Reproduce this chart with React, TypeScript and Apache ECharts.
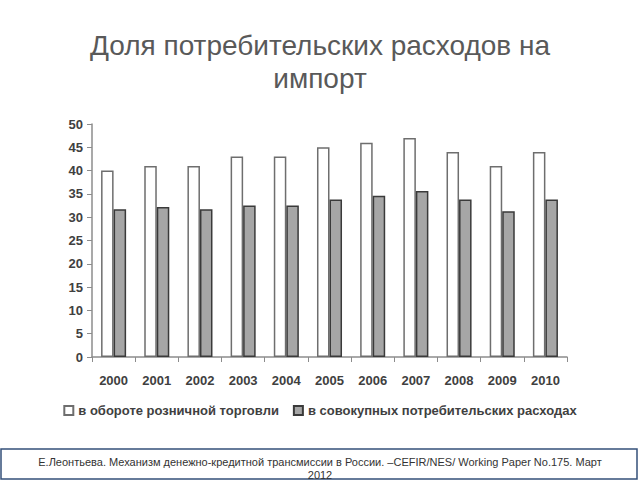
import React, { useEffect, useRef } from "react";
import * as echarts from "echarts";

const years = ["2000", "2001", "2002", "2003", "2004", "2005", "2006", "2007", "2008", "2009", "2010"];
const retailShare = [40, 41, 41, 43, 43, 45, 46, 47, 44, 41, 44];
const consumerShare = [31.7, 32.2, 31.7, 32.5, 32.5, 33.8, 34.6, 35.6, 33.8, 31.3, 33.8];
const seriesNames = ["в обороте розничной торговли", "в совокупных потребительских расходах"];
const titleLine1 = "Доля потребительских расходов на";
const titleLine2 = "импорт";
const footerLine1 = "Е.Леонтьева. Механизм денежно-кредитной трансмиссии в России. –CEFIR/NES/ Working Paper No.175. Март";
const footerLine2 = "2012";

export default function App() {
  const ref = useRef<HTMLDivElement>(null);
  useEffect(() => {
    if (!ref.current) return;
    const chart = echarts.init(ref.current, null, { renderer: "svg" });
    const font = "Liberation Sans, Arial, sans-serif";
    chart.setOption({
      animation: false,
      backgroundColor: "#ffffff",
      legend: {
        bottom: 58,
        left: "center",
        itemWidth: 9,
        itemHeight: 9,
        itemGap: 14,
        icon: "rect",
        textStyle: { fontFamily: font, fontSize: 13, color: "#404040", fontWeight: "bold" },
        data: seriesNames,
      },
      grid: { left: 92, right: 73, top: 124, bottom: 123 },
      xAxis: {
        type: "category",
        data: years,
        axisLine: { show: true, lineStyle: { color: "#8c8c8c", width: 1.5 } },
        axisTick: { show: true, alignWithLabel: false, length: 5, lineStyle: { color: "#8c8c8c" } },
        axisLabel: { fontFamily: font, fontSize: 13, color: "#404040", fontWeight: "bold", margin: 17 },
      },
      yAxis: {
        type: "value",
        min: 0,
        max: 50,
        interval: 5,
        splitLine: { show: false },
        axisLine: { show: true, lineStyle: { color: "#8c8c8c", width: 1.5 } },
        axisTick: { show: true, length: 5, lineStyle: { color: "#8c8c8c" } },
        axisLabel: { fontFamily: font, fontSize: 13, color: "#404040", fontWeight: "bold", margin: 9 },
      },
      series: [
        {
          name: seriesNames[0],
          type: "bar",
          data: retailShare,
          barGap: "0%",
          barCategoryGap: "42%",
          itemStyle: { color: "#ffffff", borderColor: "#6e6e6e", borderWidth: 1.5 },
        },
        {
          name: seriesNames[1],
          type: "bar",
          data: consumerShare,
          itemStyle: { color: "#a6a6a6", borderColor: "#3a3a3a", borderWidth: 1.5 },
        },
      ],
      graphic: [
        {
          type: "text",
          x: 320,
          y: 45,
          style: {
            text: titleLine1,
            fontFamily: font,
            fontSize: 28,
            fill: "#595959",
            align: "center",
            verticalAlign: "middle",
          },
        },
        {
          type: "text",
          x: 320,
          y: 78,
          style: {
            text: titleLine2,
            fontFamily: font,
            fontSize: 28,
            fill: "#595959",
            align: "center",
            verticalAlign: "middle",
          },
        },
        {
          type: "rect",
          shape: { x: 1, y: 449, width: 636, height: 30 },
          style: { fill: "#ffffff", stroke: "#34507a", lineWidth: 1.5 },
        },
        {
          type: "text",
          x: 320,
          y: 462,
          style: {
            text: footerLine1,
            fontFamily: font,
            fontSize: 11,
            fill: "#333333",
            align: "center",
            verticalAlign: "middle",
          },
        },
        {
          type: "text",
          x: 320,
          y: 475,
          style: {
            text: footerLine2,
            fontFamily: font,
            fontSize: 11,
            fill: "#333333",
            align: "center",
            verticalAlign: "middle",
          },
        },
      ],
    });
    return () => chart.dispose();
  }, []);
  return <div ref={ref} style={{ width: 640, height: 480, position: "fixed", left: 0, top: 0 }} />;
}
